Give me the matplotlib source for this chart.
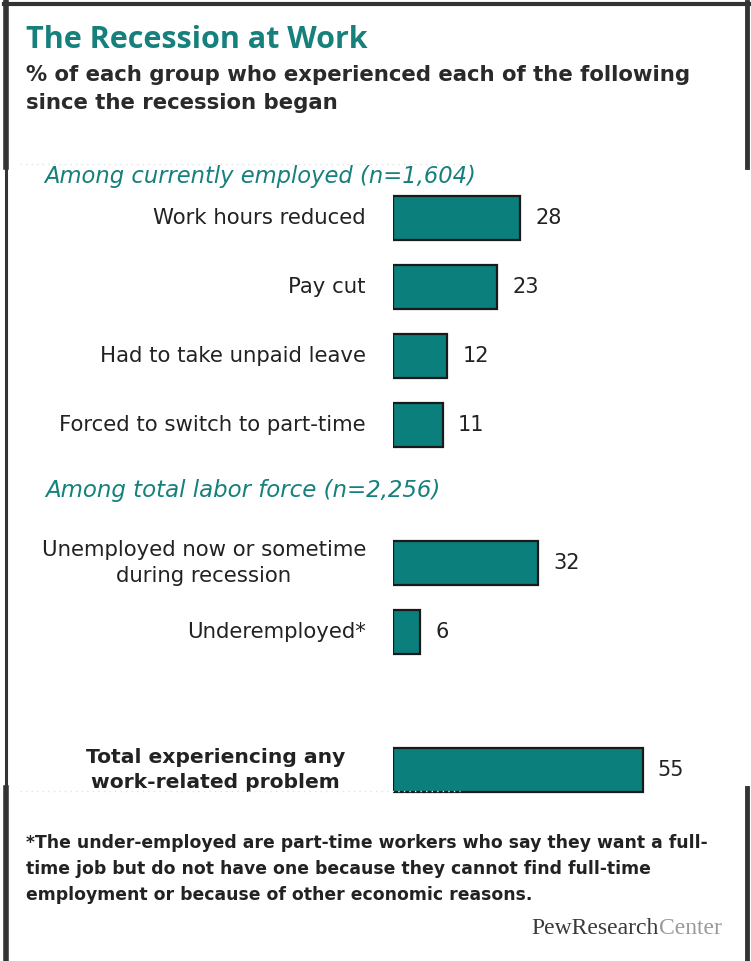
import matplotlib
matplotlib.use("Agg")
import matplotlib.pyplot as plt
from matplotlib.lines import Line2D

# ---- data ----
categories = [
    "Work hours reduced",
    "Pay cut",
    "Had to take unpaid leave",
    "Forced to switch to part-time",
    "Unemployed now or sometime\nduring recession",
    "Underemployed*",
    "Total experiencing any\nwork-related problem",
]
values = [28, 23, 12, 11, 32, 6, 55]
positions = [0, 1, 2, 3, 5, 6, 8]
bold_flags = [False, False, False, False, False, False, True]
section_headers = ["Among currently employed (n=1,604)", "Among total labor force (n=2,256)"]
title = "The Recession at Work"
subtitle = "% of each group who experienced each of the following\nsince the recession began"
footnote = ("*The under-employed are part-time workers who say they want a full-\n"
            "time job but do not have one because they cannot find full-time\n"
            "employment or because of other economic reasons.")

W, H = 751, 961
fig = plt.figure(figsize=(W / 100, H / 100), dpi=100)
fig.patch.set_facecolor("white")

def fx(px):
    return px / W

def fy(py):
    return 1 - py / H

TEAL = "#0b7f7b"
TEAL_TXT = "#16807c"

# axes in pixel layout: x=0 at px 393, 4.54 px per unit; y unit = 69 px, pos 0 at px 218
x0_px, ppu = 393, 4.54
top_px, bot_px = 150, 820
ax = fig.add_axes([fx(x0_px), fy(bot_px), fx(300), (bot_px - top_px) / H])
ax.set_xlim(0, 300 / ppu)
ax.set_ylim((bot_px - 218) / 69, (top_px - 218) / 69)
ax.axis("off")

ax.barh(positions, values, height=0.64, color=TEAL, edgecolor="#1a1a1a", linewidth=1.6)

for p, v, c, b in zip(positions, values, categories, bold_flags):
    ax.annotate(str(v), (v, p), xytext=(15, 0), textcoords="offset pixels",
                ha="left", va="center", fontsize=15, color="#222222",
                family="DejaVu Sans")
    ax.annotate(c, (0, p), xytext=(-48 if b else -27, 0), textcoords="offset pixels",
                ha="right", va="center", multialignment="center",
                fontsize=15.3 if not b else 14.6, color="#222222",
                fontweight="bold" if b else "normal", family="DejaVu Sans",
                linespacing=1.35, annotation_clip=False)

# title & subtitle
fig.text(fx(26), fy(40), title, ha="left", va="center", fontsize=22,
         fontweight="bold", color=TEAL_TXT, family="Open Sans")
fig.text(fx(26), fy(89), subtitle, ha="left", va="center", fontsize=15.3,
         fontweight="bold", color="#2a2a2a", family="DejaVu Sans", linespacing=1.45)

# section headers
fig.text(fx(44), fy(177), section_headers[0], ha="left", va="center", fontsize=16.3,
         style="italic", color=TEAL_TXT, family="DejaVu Sans")
fig.text(fx(45), fy(491), section_headers[1], ha="left", va="center", fontsize=16.5,
         style="italic", color=TEAL_TXT, family="DejaVu Sans")

# faint dotted rules
fig.add_artist(Line2D([fx(20), fx(475)], [fy(164), fy(164)], color="#e2e2e2",
                      lw=1, ls=(0, (1, 3))))
fig.add_artist(Line2D([fx(20), fx(460)], [fy(791), fy(791)], color="#e2e2e2",
                      lw=1, ls=(0, (1, 3))))

# footnote
fig.text(fx(26), fy(869), footnote, ha="left", va="center", fontsize=12.4,
         fontweight="bold", color="#222222", family="DejaVu Sans", linespacing=1.6)

# logo
fig.text(fx(659), fy(928), "PewResearch", ha="right", va="center", fontsize=17,
         color="#3a3a3a", family="Liberation Serif")
fig.text(fx(659), fy(928), "Center", ha="left", va="center", fontsize=17,
         color="#9a9a9a", family="Liberation Serif")

# frame
BC = "#333333"
fig.add_artist(Line2D([fx(4), fx(749)], [fy(4), fy(4)], color=BC, lw=3))
fig.add_artist(Line2D([fx(6), fx(6)], [fy(2), fy(167)], color=BC, lw=4))
fig.add_artist(Line2D([fx(6), fx(6)], [fy(167), fy(788)], color=BC, lw=2.2))
fig.add_artist(Line2D([fx(6), fx(6)], [fy(788), fy(961)], color=BC, lw=4))
fig.add_artist(Line2D([fx(747), fx(747)], [fy(2), fy(167)], color=BC, lw=3.5))
fig.add_artist(Line2D([fx(747), fx(747)], [fy(788), fy(961)], color=BC, lw=3.5))

fig.savefig("out.png", dpi=100)
